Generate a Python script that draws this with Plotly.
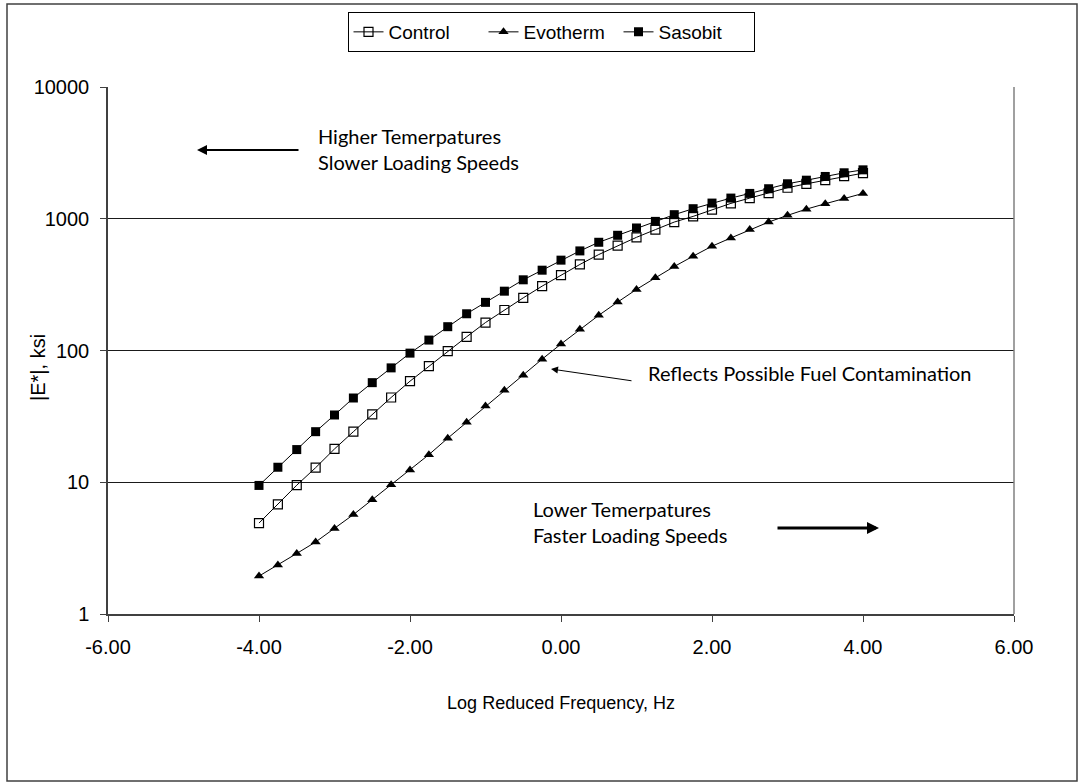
import plotly.graph_objects as go

x_vals = [-4.0 + 0.25 * i for i in range(33)]

control = [4.9, 6.8, 9.5, 12.9, 17.9, 24.2, 32.7, 44, 58.5, 76, 99, 127, 163, 203, 251, 308,
           373, 450, 535, 626, 723, 827, 944, 1042, 1171, 1308, 1435, 1566, 1719, 1842, 1962, 2104, 2218]
evotherm = [1.94, 2.35, 2.88, 3.52, 4.45, 5.68, 7.37, 9.57, 12.4, 16.2, 21.6, 28.5, 37.9, 50, 65, 86,
            112, 145, 185, 233, 291, 356, 434, 520, 619, 715, 827, 944, 1061, 1183, 1300, 1426, 1557]
sasobit = [9.46, 13.0, 17.7, 24.2, 32.4, 43.6, 57, 73.8, 95.5, 120, 151.6, 190, 232, 282, 344, 407,
           485, 570, 663, 749, 851, 955, 1074, 1192, 1315, 1435, 1557, 1690, 1843, 1962, 2094, 2233, 2351]

x_ticks = [-6, -4, -2, 0, 2, 4, 6]
x_tick_text = ["-6.00", "-4.00", "-2.00", "0.00", "2.00", "4.00", "6.00"]
y_ticks = [1, 10, 100, 1000, 10000]
y_tick_text = ["1", "10", "100", "1000", "10000"]

W, H = 1080, 784
L, R, T, B = 108, 1014, 87, 614


def px(xp):
    return (xp - L) / (R - L)


def py(yp):
    return (B - yp) / (B - T)


fig = go.Figure()
fig.add_trace(go.Scatter(x=x_vals, y=control, name="Control", mode="lines+markers",
                         line=dict(color="black", width=1),
                         marker=dict(symbol="square-open", size=9, color="black", line=dict(width=1.2))))
fig.add_trace(go.Scatter(x=x_vals, y=evotherm, name="Evotherm", mode="lines+markers",
                         line=dict(color="black", width=1),
                         marker=dict(symbol="triangle-up", size=9, color="black")))
fig.add_trace(go.Scatter(x=x_vals, y=sasobit, name="Sasobit", mode="lines+markers",
                         line=dict(color="black", width=1),
                         marker=dict(symbol="square", size=9, color="black")))

tick_font = dict(family="Liberation Sans, Arial", size=20, color="black")
title_font = dict(family="Liberation Sans, Arial", size=18, color="black")
ann_font = dict(family="Lato, Open Sans", size=20, color="black")

fig.update_layout(
    width=W, height=H,
    margin=dict(l=L, r=W - R, t=T, b=H - B),
    paper_bgcolor="white", plot_bgcolor="white",
    showlegend=True,
    legend=dict(orientation="h", x=px(551), xanchor="center", y=py(12), yanchor="top",
                bordercolor="black", borderwidth=1, bgcolor="white",
                font=dict(family="Liberation Sans, Arial", size=19, color="black"),
                itemwidth=30, tracegroupgap=0, entrywidth=90, entrywidthmode="pixels"),
    xaxis=dict(range=[-6, 6], tickvals=x_ticks, ticktext=x_tick_text, showgrid=False,
               zeroline=False, showline=True, linecolor="#404040", linewidth=1.5,
               ticks="outside", ticklen=6, tickcolor="#404040", tickfont=tick_font,
               ticklabelstandoff=8, mirror=False,
               title=dict(text="Log Reduced Frequency, Hz", font=title_font, standoff=40)),
    yaxis=dict(type="log", range=[0, 4], tickvals=y_ticks, ticktext=y_tick_text,
               showgrid=True, gridcolor="#1a1a1a", gridwidth=1,
               zeroline=False, showline=True, linecolor="#404040", linewidth=1.5,
               ticks="outside", ticklen=6, tickcolor="#404040", tickfont=tick_font,
               ticklabelstandoff=7),
)

# y-axis title
fig.add_annotation(xref="paper", yref="paper", x=px(38), y=py(368), xanchor="center", yanchor="middle",
                   text="|E*|, ksi", textangle=-90, showarrow=False, font=tick_font)

# right plot-area border
fig.add_shape(type="line", xref="paper", yref="paper", x0=1, x1=1, y0=0, y1=1,
              line=dict(color="#808080", width=1.5))
# outer chart border
fig.add_shape(type="rect", xref="paper", yref="paper", x0=px(7), x1=px(1077), y0=py(781), y1=py(4),
              line=dict(color="#404040", width=1.5), layer="below")

# text annotations
fig.add_annotation(xref="paper", yref="paper", x=px(316), y=py(149), xanchor="left", yanchor="middle",
                   text="Higher Temerpatures<br>Slower Loading Speeds", showarrow=False,
                   align="left", font=ann_font)
fig.add_annotation(xref="paper", yref="paper", x=px(646), y=py(373), xanchor="left", yanchor="middle",
                   text="Reflects Possible Fuel Contamination", showarrow=False,
                   align="left", font=ann_font)
fig.add_annotation(xref="paper", yref="paper", x=px(531), y=py(522), xanchor="left", yanchor="middle",
                   text="Lower Temerpatures<br>Faster Loading Speeds", showarrow=False,
                   align="left", font=ann_font)


def arrow(hx, hy, tx, ty, width, size):
    fig.add_annotation(xref="paper", yref="paper", x=px(hx), y=py(hy),
                       axref="pixel", ayref="pixel", ax=tx - hx, ay=ty - hy,
                       text="", showarrow=True, arrowhead=2, arrowsize=size,
                       arrowwidth=width, arrowcolor="black")


arrow(197, 150, 300, 150, 2, 1)
arrow(551, 369, 633, 381, 1, 1.4)
arrow(879, 528, 776, 528, 3, 0.8)

fig.write_html("out.html", config={"displayModeBar": False},
               post_script="document.body.style.margin='0';")
